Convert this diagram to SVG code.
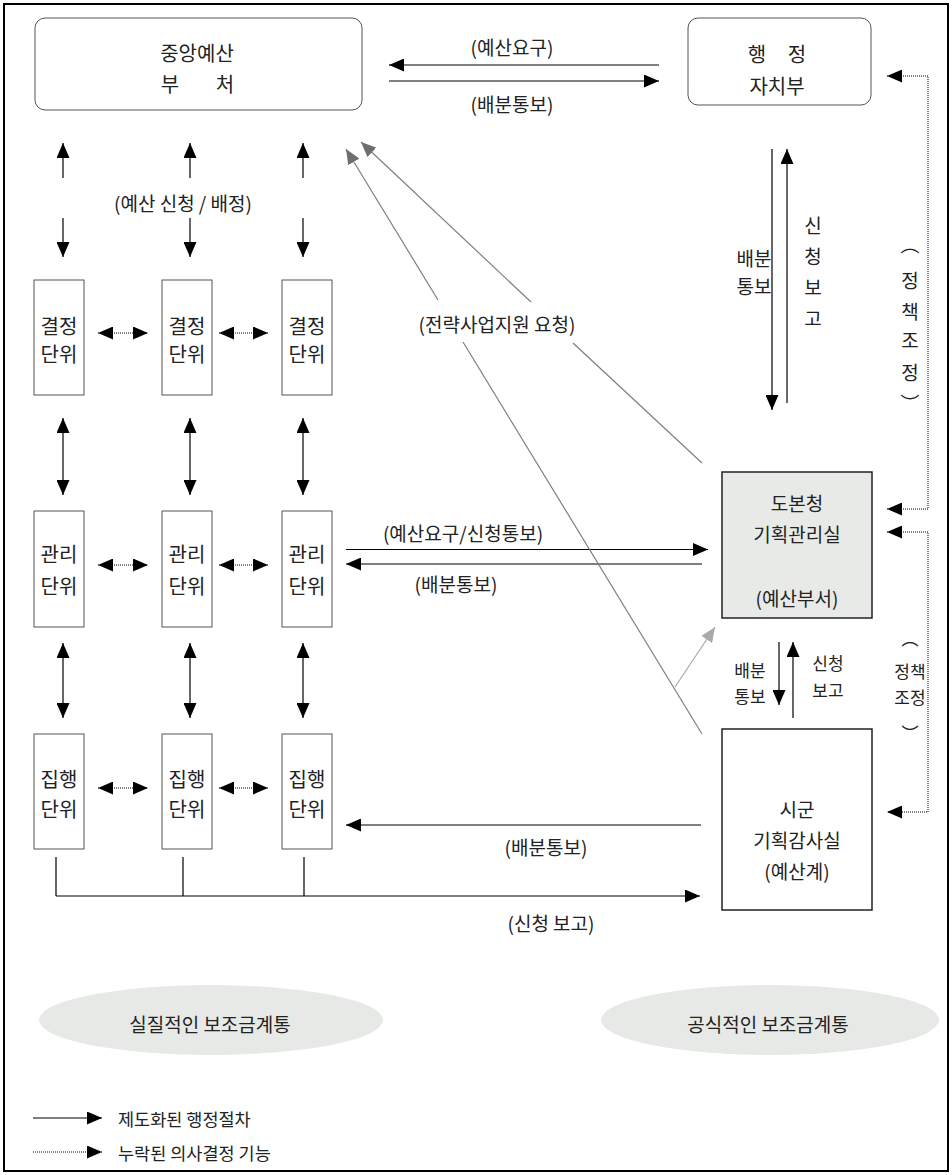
<svg xmlns="http://www.w3.org/2000/svg" width="952" height="1175" viewBox="0 0 952 1175">
<style>
text{font-family:"Noto Sans CJK KR","Noto Sans CJK SC",sans-serif;fill:#222;text-anchor:middle;dominant-baseline:central;font-size:19px}
.n{font-size:20px}
.t{font-size:17px}
.lg{font-size:17.5px;text-anchor:start}
.box{fill:#fff;stroke:#555;stroke-width:1}
.bbox{stroke:#222;stroke-width:1.5}
.s{stroke:#000;stroke-width:1.2;fill:none}
.d{stroke:#000;stroke-width:1;stroke-dasharray:1 1;fill:none}
.g{stroke:#7d807e;stroke-width:1.2;fill:none}
.lg2{stroke:#aaa;stroke-width:1.2;fill:none}
.a1{marker-end:url(#ah)}
.a2{marker-start:url(#ah);marker-end:url(#ah)}
</style>
<defs>
<marker id="ah" viewBox="0 0 15 13" markerWidth="15" markerHeight="13" refX="15" refY="6.5" orient="auto-start-reverse" markerUnits="userSpaceOnUse"><path d="M0,0 L15,6.5 L0,13z" fill="#000"/></marker>
<marker id="ahg" viewBox="0 0 15 13" markerWidth="15" markerHeight="13" refX="15" refY="6.5" orient="auto" markerUnits="userSpaceOnUse"><path d="M0,0 L15,6.5 L0,13z" fill="#6b706c"/></marker>
<marker id="ahl" viewBox="0 0 15 13" markerWidth="15" markerHeight="13" refX="15" refY="6.5" orient="auto" markerUnits="userSpaceOnUse"><path d="M0,0 L15,6.5 L0,13z" fill="#aaa"/></marker>
</defs>
<rect x="4" y="4" width="944" height="1167" fill="#fff" stroke="#000" stroke-width="2"/>

<g id="central">
<rect class="box" x="35" y="18" width="327" height="92" rx="10"/>
<text class="n" x="197" y="52">중앙예산</text>
<text class="n" y="83"><tspan x="170">부</tspan><tspan x="225">처</tspan></text>
</g>
<g id="haengjeong">
<rect class="box" x="688" y="18" width="183" height="87" rx="10"/>
<text class="n" y="53"><tspan x="757">행</tspan><tspan x="797">정</tspan></text>
<text class="n" x="777" y="85">자치부</text>
</g>

<g id="k1"><rect class="box" x="34" y="280" width="50" height="115"/><text class="n" x="59" y="325">결정</text><text class="n" x="59" y="353">단위</text></g>
<g id="k2"><rect class="box" x="162" y="280" width="50" height="115"/><text class="n" x="187" y="325">결정</text><text class="n" x="187" y="353">단위</text></g>
<g id="k3"><rect class="box" x="282" y="280" width="50" height="115"/><text class="n" x="307" y="325">결정</text><text class="n" x="307" y="353">단위</text></g>
<g id="m1"><rect class="box" x="34" y="511" width="50" height="116"/><text class="n" x="59" y="553">관리</text><text class="n" x="59" y="585">단위</text></g>
<g id="m2"><rect class="box" x="162" y="511" width="50" height="116"/><text class="n" x="187" y="553">관리</text><text class="n" x="187" y="585">단위</text></g>
<g id="m3"><rect class="box" x="282" y="511" width="50" height="116"/><text class="n" x="307" y="553">관리</text><text class="n" x="307" y="585">단위</text></g>
<g id="e1"><rect class="box" x="34" y="734" width="50" height="115"/><text class="n" x="59" y="778">집행</text><text class="n" x="59" y="808">단위</text></g>
<g id="e2"><rect class="box" x="162" y="734" width="50" height="115"/><text class="n" x="187" y="778">집행</text><text class="n" x="187" y="808">단위</text></g>
<g id="e3"><rect class="box" x="282" y="734" width="50" height="115"/><text class="n" x="307" y="778">집행</text><text class="n" x="307" y="808">단위</text></g>

<g id="dobon">
<rect class="bbox" x="722" y="472" width="150" height="146" fill="#e7eae7"/>
<text x="797" y="502">도본청</text>
<text x="797" y="533">기획관리실</text>
<text x="797" y="597">(예산부서)</text>
</g>
<g id="sigun">
<rect class="bbox" x="722" y="729" width="150" height="181" fill="#fff"/>
<text x="797" y="808">시군</text>
<text x="797" y="839">기획감사실</text>
<text x="797" y="870">(예산계)</text>
</g>

<g id="oval1"><ellipse cx="211" cy="1020" rx="172" ry="35" fill="#e6e9e6"/><text x="210" y="1023">실질적인 보조금계통</text></g>
<g id="oval2"><ellipse cx="770" cy="1020" rx="169" ry="35" fill="#e6e9e6"/><text x="768" y="1023">공식적인 보조금계통</text></g>

<g id="connectors">
<path class="s a1" d="M659,65 H389"/>
<path class="s a1" d="M389,81 H659"/>
<text x="512" y="46">(예산요구)</text>
<text x="512" y="103">(배분통보)</text>

<path class="d" d="M887,76 H928 V509 H887" style="marker-start:url(#ah);marker-end:url(#ah)"/>
<path class="d" d="M887,532 H928 V812 H887" style="marker-start:url(#ah);marker-end:url(#ah)"/>

<path class="s a1" d="M63,178 V143"/>
<path class="s a1" d="M190,178 V143"/>
<path class="s a1" d="M303,178 V143"/>
<path class="s a1" d="M63,218 V257"/>
<path class="s a1" d="M190,218 V257"/>
<path class="s a1" d="M303,218 V257"/>
<text x="183" y="202">(예산 신청 / 배정)</text>

<path class="d a2" d="M98,333 H148"/>
<path class="d a2" d="M219,333 H268"/>
<path class="d a2" d="M98,565 H148"/>
<path class="d a2" d="M219,565 H268"/>
<path class="d a2" d="M98,788 H148"/>
<path class="d a2" d="M219,788 H268"/>

<path class="s a2" d="M63,418 V495"/>
<path class="s a2" d="M190,418 V495"/>
<path class="s a2" d="M303,418 V495"/>
<path class="s a2" d="M63,643 V718"/>
<path class="s a2" d="M190,643 V718"/>
<path class="s a2" d="M303,643 V718"/>

<path class="s" d="M56,857 V896 M183,857 V896 M304,857 V896"/>
<path class="s a1" d="M56,896 H700"/>
<text x="551" y="922">(신청 보고)</text>

<path class="s a1" d="M346,549.5 H708"/>
<path class="s a1" d="M702,564 H346"/>
<text x="463" y="532">(예산요구/신청통보)</text>
<text x="456" y="583">(배분통보)</text>

<path class="s a1" d="M701,825 H346"/>
<text x="546" y="846">(배분통보)</text>

<path class="g" d="M702,734 L463,342"/>
<path class="g" d="M438,300 L346,149" marker-end="url(#ahg)"/>
<path class="g" d="M702,463 L573,343"/>
<path class="g" d="M531,302 L361,142" marker-end="url(#ahg)"/>
<text x="497" y="323">(전략사업지원 요청)</text>
<path class="lg2" d="M675,687 L715,627" marker-end="url(#ahl)"/>

<path class="s a1" d="M772,149 V410"/>
<path class="s a1" d="M787,403 V149"/>
<text x="754" y="257">배분</text>
<text x="754" y="285">통보</text>
<text x="813" y="224">신</text>
<text x="813" y="255">청</text>
<text x="813" y="286">보</text>
<text x="813" y="317">고</text>

<path class="s a1" d="M779,642 V705"/>
<path class="s a1" d="M793,718 V642"/>
<text class="t" x="750" y="669">배분</text>
<text class="t" x="750" y="695">통보</text>
<text class="t" x="828" y="662">신청</text>
<text class="t" x="828" y="689">보고</text>

<text x="910" y="243">︵</text>
<text x="910" y="279">정</text>
<text x="910" y="310">책</text>
<text x="910" y="339">조</text>
<text x="910" y="371">정</text>
<text x="910" y="402">︶</text>
<text class="t" x="910" y="637">︵</text>
<text class="t" x="910" y="670">정책</text>
<text class="t" x="910" y="696">조정</text>
<text class="t" x="910" y="732">︶</text>
</g>

<g id="legend">
<path class="s a1" d="M33,1118 H102"/>
<text class="lg" x="118" y="1118">제도화된 행정절차</text>
<path class="d a1" d="M33,1152 H102"/>
<text class="lg" x="118" y="1152">누락된 의사결정 기능</text>
</g>
</svg>
